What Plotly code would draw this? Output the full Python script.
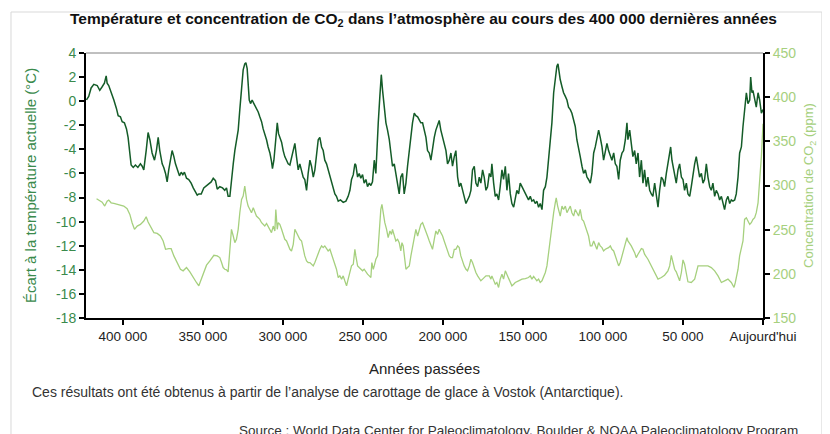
import plotly.graph_objects as go

# Vostok ice core, years before present (thousands) and temperature anomaly (°C)
temp_kyr = [
    422.7, 421.3, 419.8, 418.1, 416.0, 414.4, 412.9, 411.5, 410.4, 409.8, 408.8, 407.3, 405.6, 404.0,
    402.9, 401.5, 400.4, 399.0, 397.7, 396.7, 395.6, 394.8, 393.5, 392.1, 390.6, 389.0, 387.9, 386.9,
    385.4, 384.2, 383.1, 381.7, 380.2, 379.0, 377.9, 376.9, 375.4, 374.4, 373.3, 372.3, 371.3, 370.2,
    369.2, 368.1, 367.1, 365.6, 364.6, 363.5, 362.5, 361.5, 360.2, 358.8, 357.3, 356.0, 354.6, 353.5,
    352.5, 351.0, 349.4, 347.7, 346.3, 344.8, 343.5, 342.1, 341.0,
    339.4, 337.7, 336.3, 335.2, 334.2, 333.1, 332.1, 331.0, 330.0, 329.0, 327.9, 326.9, 325.8, 324.8,
    323.8, 323.1, 322.3, 321.7, 321.0, 320.2, 319.2, 318.1, 316.9, 315.4, 314.4, 313.3, 312.3, 311.3,
    310.2, 309.2, 308.1, 307.1, 306.5, 305.6, 304.6, 303.5, 302.7, 301.9, 300.8, 299.8, 298.8, 297.7,
    296.7, 295.6, 294.6, 293.5, 292.5, 291.5, 290.4, 289.4, 288.3, 287.3, 286.3, 285.2, 284.2, 283.1,
    282.1, 281.0, 280.0, 279.0, 277.9, 276.9, 275.8, 274.8, 273.8, 272.7, 271.7, 270.6, 269.6, 268.5,
    267.5, 266.5, 265.4, 264.0, 262.3, 260.6, 259.2, 258.1, 257.1, 256.0, 255.0,
    254.4, 253.3, 252.3, 251.3, 250.2, 249.2, 248.1, 247.1, 246.0, 245.0, 244.0, 242.9, 241.9, 241.3,
    240.4, 239.4, 238.5, 237.7, 236.7, 235.6, 234.6, 233.5, 232.5, 231.5, 230.4, 229.4, 228.3, 227.3,
    226.3, 225.2, 224.2, 223.1, 222.1, 221.0, 220.0, 219.0, 217.9, 216.9, 215.8, 214.8, 213.8, 212.7,
    211.7, 210.6, 209.6, 208.5, 207.5, 206.5, 205.4, 204.4, 203.3, 202.3, 201.3, 200.2, 199.2, 198.1,
    197.1, 196.0, 195.0, 194.0, 192.9, 191.9, 190.8, 189.8, 188.8, 187.7, 186.7, 185.6, 184.6, 183.5,
    182.5, 181.5, 180.4, 179.4, 178.3, 177.3, 176.3, 175.2, 174.2, 173.1, 172.1, 171.0, 170.0,
    169.4, 168.3, 167.3, 166.3, 165.2, 164.2, 163.1, 162.1, 161.0, 160.0, 159.0, 157.9, 156.9, 155.8,
    154.8, 153.8, 152.7, 151.7, 150.6, 149.6, 148.5, 147.5, 146.5, 145.4, 144.4, 143.3, 142.3, 141.3,
    140.2, 139.2, 138.1, 137.1, 136.0, 135.0, 134.0, 132.9, 131.9, 130.8, 129.8, 128.8, 128.1, 127.3,
    126.7, 125.6, 124.6, 123.5, 122.5, 121.5, 120.4, 119.4, 118.3, 117.3, 116.3, 115.2, 114.2, 113.1,
    112.1, 111.0, 110.0, 109.0, 107.9, 106.9, 105.8, 104.8, 103.8, 102.7, 101.7, 100.6, 99.6, 98.5,
    97.5, 96.5, 95.4, 94.4, 93.3, 92.3, 91.3, 90.2, 89.2, 88.1, 87.1, 86.0, 85.0,
    84.4, 83.3, 82.3, 81.3, 80.2, 79.2, 78.1, 77.1, 76.0, 75.0, 74.0, 72.9, 71.9, 70.8, 69.8, 68.8,
    67.7, 66.7, 65.6, 64.6, 63.5, 62.5, 61.5, 60.4, 59.4, 58.3, 57.7, 56.9, 56.3, 55.2, 54.2, 53.1,
    52.1, 51.0, 50.0, 49.0, 47.9, 46.9, 45.8, 44.8, 43.8, 42.7, 41.7, 40.6, 39.6, 38.5, 37.5, 36.5,
    35.4, 34.4, 33.3, 32.3, 31.3, 30.2, 29.2, 28.1, 27.1, 26.0, 25.0, 24.0, 22.9, 21.9, 20.8, 19.8,
    18.8, 17.7, 16.7, 15.6, 14.6, 13.5, 12.5, 11.5, 10.4, 9.4, 8.3, 7.7, 6.9, 6.3, 5.2, 4.2, 3.1,
    2.1, 1.0, 0.0,
]
temp_values = [
    0.1, 0.4, 1.1, 1.4, 1.3, 0.9, 1.2, 1.5, 2.1, 1.5, 1.3, 0.8, 0.1, -0.6,
    -1.2, -1.3, -1.7, -1.8, -2.3, -3.0, -4.1, -5.3, -5.5, -5.3, -5.5, -5.2, -5.4, -5.7,
    -4.1, -2.6, -3.2, -4.3, -4.9, -4.1, -3.0, -4.1, -5.2, -5.5, -6.0, -6.7, -5.7, -4.9,
    -4.1, -4.6, -5.2, -5.8, -6.2, -5.9, -6.1, -5.9, -6.4, -6.5, -6.8, -7.2, -7.5, -7.8,
    -7.7, -7.7, -7.2, -7.0, -6.8, -6.7, -6.4, -6.6, -7.3,
    -7.1, -7.2, -7.4, -7.2, -7.9, -7.9, -6.3, -5.2, -4.1, -3.1, -2.4, -0.7, 1.5, 2.6,
    3.1, 3.2, 2.7, 1.5, 0.1, -0.2, 0.1, -0.2, -0.5, -0.9, -1.3, -1.7, -2.3, -2.7,
    -3.2, -3.8, -4.3, -5.0, -5.6, -4.9, -3.5, -1.8, -2.7, -3.0, -3.4, -4.1, -4.6, -4.9,
    -5.2, -5.3, -4.7, -4.1, -3.5, -4.6, -5.7, -5.2, -5.9, -6.3, -6.5, -7.4, -6.0, -4.9,
    -5.4, -6.3, -5.7, -4.6, -3.2, -3.0, -3.8, -4.1, -4.9, -5.2, -5.7, -6.1, -6.7, -7.1,
    -7.7, -7.9, -8.3, -8.2, -8.4, -8.3, -7.9, -7.4, -6.5, -6.1, -5.2,
    -5.3, -6.3, -6.0, -6.4, -6.1, -6.8, -6.5, -7.1, -6.8, -7.0, -6.7, -4.9, -6.0, -4.1,
    -1.8, 0.4, 2.2, 0.9, -0.7, -1.8, -2.4, -3.2, -4.3, -5.4, -5.2, -6.0, -6.8, -7.7,
    -6.3, -6.0, -7.7, -6.8, -5.4, -4.1, -2.7, -1.8, -1.0, -1.2, -1.3, -1.6, -1.8, -1.8,
    -2.4, -3.0, -4.1, -4.3, -4.9, -3.8, -3.0, -2.4, -2.0, -1.6, -2.4, -3.0, -3.5, -4.1,
    -5.2, -4.9, -4.3, -5.4, -4.6, -4.1, -6.3, -7.1, -6.8, -7.4, -7.9, -8.5, -8.2, -7.9,
    -7.4, -5.7, -5.4, -6.8, -7.1, -6.3, -6.8, -5.7, -6.3, -7.4, -7.1, -6.0, -6.3,
    -5.2, -6.8, -7.9, -7.7, -8.2, -7.1, -5.7, -6.5, -5.4, -7.4, -6.0, -7.7, -8.5, -8.8,
    -7.9, -7.4, -7.7, -6.8, -7.1, -7.4, -7.7, -7.9, -8.2, -7.9, -8.3, -8.2, -8.5, -8.3,
    -8.8, -8.5, -9.0, -7.4, -7.1, -6.3, -4.9, -3.0, -1.8, 0.7, 2.0, 2.9, 3.1, 2.3,
    1.8, 1.2, 0.7, 0.4, 0.1, -0.5, -0.7, -1.0, -1.6, -2.1, -3.2, -4.1, -4.6, -5.4,
    -6.0, -5.7, -6.3, -6.5, -6.8, -6.0, -4.3, -3.8, -3.0, -2.4, -3.0, -3.8, -4.9, -4.1,
    -3.5, -4.1, -4.6, -4.9, -4.3, -5.2, -5.4, -6.5, -4.9, -4.3, -4.1, -3.2, -1.8,
    -3.2, -2.4, -3.8, -4.6, -4.1, -5.2, -4.3, -6.3, -4.9, -6.8, -5.7, -7.1, -6.3, -7.4, -7.7, -7.9,
    -6.8, -7.7, -8.8, -7.4, -6.3, -6.5, -7.1, -6.0, -5.2, -4.3, -3.8, -4.9, -5.4, -6.0, -6.8, -5.7,
    -5.2, -6.3, -6.5, -7.4, -6.8, -7.7, -7.9, -7.1, -6.0, -5.2, -4.6, -5.4, -6.3, -6.0, -6.8, -6.5,
    -5.2, -6.3, -7.1, -7.4, -6.8, -7.9, -7.4, -7.7, -8.2, -7.9, -8.5, -9.0, -8.2, -7.9, -8.5, -8.2,
    -8.3, -8.2, -7.7, -6.3, -4.3, -3.8, -2.1, -0.7, 0.7, -0.2, 0.1, 2.0, 0.7, 0.9, 0.1, -0.5, 0.7,
    0.1, -1.0, -0.7,
]

# CO2 concentration (ppm)
co2_kyr = [
    416.4, 412.9, 411.3, 409.8, 408.8, 407.3, 405.6, 403.5, 401.5, 399.4, 397.3, 395.6, 394.2, 392.7,
    391.0, 389.0, 386.9, 385.4, 384.2, 382.7, 380.6, 378.5, 376.5, 374.8, 373.3, 371.3, 369.8, 368.1,
    366.0, 364.0, 362.3, 360.2, 358.1, 355.6, 354.0, 352.5, 351.0, 349.4, 347.7, 345.6, 343.1, 341.0,
    339.4, 338.3, 337.3, 336.3, 335.2, 334.2, 333.1, 332.1, 331.0, 330.0, 329.0, 327.9, 326.9, 325.8,
    324.8, 323.8, 322.7, 321.7, 320.6, 319.6, 318.5, 317.5, 316.5, 315.4, 314.4, 313.3, 312.3, 311.3,
    310.2, 309.2, 308.1, 307.1, 306.0, 305.0, 304.4, 303.5, 302.9, 301.9, 300.8, 299.8, 298.8, 297.7,
    296.7, 295.6, 294.6, 293.5, 292.5, 291.5, 290.4, 289.4, 288.3, 287.3, 286.3, 285.2, 284.2, 283.1,
    282.1, 281.0, 280.0, 279.0, 277.9, 276.9, 275.8, 274.8, 273.8, 272.7, 271.7, 270.6, 269.6, 268.5,
    267.5, 266.5, 265.4, 264.4, 263.3, 262.3, 261.3, 260.2, 259.2, 258.1, 257.1, 256.0, 255.0,
    254.4, 253.3, 252.3, 251.3, 250.2, 249.2, 248.1, 247.1, 246.0, 245.0, 244.4, 243.5, 242.9, 241.9,
    240.8, 239.8, 238.8, 238.1, 237.3, 236.3, 235.2, 234.2, 233.1, 232.1, 231.5, 230.4, 229.4, 228.3,
    227.3, 226.3, 225.6, 224.8, 224.0, 223.1, 222.1, 221.0, 220.0, 219.0, 217.9, 216.9, 215.8, 214.8,
    213.8, 212.7, 211.7, 210.6, 209.6, 208.5, 207.5, 206.5, 205.4, 204.4, 203.3, 202.3, 201.3, 200.2,
    199.2, 198.1, 197.1, 196.0, 195.0, 194.0, 192.9, 191.9, 190.8, 189.8, 188.8, 187.7, 186.7, 185.6,
    184.6, 183.5, 182.5, 181.5, 180.4, 179.4, 178.3, 177.3, 176.3, 175.2, 174.2, 173.1, 172.1, 171.0,
    170.0,
    169.4, 167.3, 166.3, 165.2, 164.2, 163.1, 162.1, 161.0, 160.0, 159.0, 157.9, 156.9, 155.8, 154.8,
    152.7, 150.6, 148.5, 146.5, 145.4, 144.4, 143.3, 142.3, 141.3, 140.2, 139.2, 138.1, 137.1, 136.0,
    135.0, 134.0, 132.9, 131.9, 130.8, 129.8, 129.2, 128.3, 127.7, 126.7, 125.6, 124.6, 123.5, 122.5,
    121.5, 120.4, 119.4, 118.3, 117.3, 116.3, 115.2, 114.2, 113.1, 112.1, 111.0, 110.0, 109.0, 107.9,
    106.9, 105.8, 104.8, 103.8, 102.7, 101.7, 100.6, 99.6, 98.5, 97.5, 96.5, 95.4, 94.4, 93.3,
    92.3, 91.3, 90.2, 89.2, 88.1, 87.1, 86.0, 85.0,
    84.4, 82.3, 80.2, 79.2, 78.1, 76.0, 75.0, 74.0, 71.9, 69.8, 67.7, 65.6, 63.5, 61.5, 59.4, 58.3,
    57.3, 56.3, 55.2, 54.2, 53.1, 52.1, 51.0, 50.0, 49.0, 47.9, 46.9, 44.8, 42.7, 40.6, 38.5, 36.5,
    34.4, 32.3, 30.2, 28.1, 26.0, 24.0, 21.9, 19.8, 18.1, 17.3, 15.6, 14.6, 13.5, 12.5, 11.5, 10.4,
    9.4, 8.3, 7.3, 6.3, 5.2, 4.2, 3.1, 2.1, 1.0, 0.0,
]
co2_values = [
    285.0, 281.2, 276.7, 282.3, 283.4, 280.4, 279.7, 278.6, 277.8, 276.7, 273.7, 267.3, 257.9, 250.4,
    254.1, 256.0, 259.8, 264.6, 258.6, 253.4, 246.6, 245.8, 242.8, 237.2, 227.8, 228.5, 228.5, 220.3,
    212.8, 205.2, 203.4, 207.1, 202.2, 194.0, 190.2, 186.4, 194.0, 203.4, 209.8, 214.6, 221.0, 220.3,
    218.4, 212.8, 207.1, 205.2, 204.5, 202.2, 227.8, 250.4, 242.8, 235.3, 239.1, 250.4, 269.2, 284.2,
    288.0, 299.2, 284.2, 276.7, 272.9, 269.2, 274.8, 269.2, 265.4, 263.5, 261.6, 257.9, 256.0, 254.1,
    257.1, 254.1, 250.4, 246.6, 254.1, 248.5, 272.9, 250.4, 257.9, 256.0, 250.4, 244.7, 239.1, 237.2,
    231.6, 227.8, 225.9, 233.4, 250.4, 246.6, 241.0, 239.1, 237.2, 227.8, 220.3, 214.6, 212.8, 212.8,
    210.9, 209.0, 212.8, 218.4, 224.0, 227.8, 231.6, 229.7, 231.6, 227.8, 225.9, 227.8, 222.2, 218.4,
    210.9, 205.2, 195.8, 197.7, 194.0, 197.7, 192.1, 186.4, 194.0, 201.5, 209.0, 210.9, 227.8,
    220.3, 209.0, 207.1, 205.2, 203.4, 205.2, 201.5, 199.6, 197.7, 195.8, 212.8, 205.2, 209.0, 216.5,
    220.3, 250.4, 272.9, 278.6, 269.2, 257.9, 250.4, 241.0, 248.5, 244.7, 250.4, 242.8, 237.2, 239.1,
    235.3, 225.9, 235.3, 231.6, 220.3, 205.2, 207.1, 209.0, 220.3, 231.6, 242.8, 250.4, 242.8, 250.4,
    256.0, 257.9, 252.2, 248.5, 242.8, 237.2, 231.6, 227.8, 239.1, 248.5, 244.7, 250.4, 246.6, 242.8,
    237.2, 231.6, 225.9, 220.3, 218.4, 218.4, 227.8, 227.8, 231.6, 229.7, 220.3, 212.8, 209.0, 205.2,
    203.4, 209.0, 216.5, 212.8, 205.2, 201.5, 197.7, 194.0, 192.1, 194.0, 195.8, 197.7, 197.7, 197.7,
    194.0,
    197.7, 188.3, 190.2, 184.6, 194.0, 199.6, 194.0, 203.4, 199.6, 194.0, 190.2, 186.4, 188.3, 190.2,
    192.1, 194.0, 194.7, 195.8, 197.7, 194.0, 197.0, 194.0, 192.1, 194.0, 190.2, 192.1, 195.8, 201.5,
    209.0, 224.0, 239.1, 257.9, 269.2, 280.4, 286.1, 276.7, 272.9, 265.4, 276.7, 272.9, 276.7, 269.2,
    272.9, 276.7, 269.2, 265.4, 272.9, 269.2, 265.4, 272.9, 261.6, 259.8, 254.1, 246.6, 242.8, 231.6,
    231.6, 237.2, 231.6, 227.8, 235.3, 231.6, 229.7, 225.9, 227.8, 228.6, 229.7, 231.6, 227.8, 225.9,
    220.3, 212.8, 209.0, 212.8, 220.3, 227.8, 235.3, 241.0,
    237.2, 231.6, 224.0, 218.4, 222.2, 228.6, 227.8, 222.2, 216.5, 209.0, 201.5, 194.0, 195.8, 198.5, 203.4, 209.0,
    221.0, 212.8, 205.2, 202.2, 197.7, 192.1, 201.5, 215.8, 210.9, 197.7, 191.0, 190.2, 194.0, 209.0, 209.0, 209.8,
    209.0, 207.1, 203.4, 197.7, 190.2, 192.1, 194.0, 190.2, 184.6, 190.2, 205.2, 220.3, 231.6, 237.2, 261.6, 263.5,
    259.8, 255.9, 257.9, 261.6, 263.5, 269.2, 280.4, 302.9, 333.0, 370.0,
]

x_tick_vals = [400, 350, 300, 250, 200, 150, 100, 50, 0]
x_tick_text = ["400 000", "350 000", "300 000", "250 000", "200 000", "150 000", "100 000", "50 000", "Aujourd'hui"]
temp_tick_vals = [4, 2, 0, -2, -4, -6, -8, -10, -12, -14, -16, -18]
temp_tick_text = ["4", "2", "0", "-2", "-4", "-6", "-8", "-10", "-12", "-14", "-16", "-18"]
co2_tick_vals = [150, 200, 250, 300, 350, 400, 450]

FONT = "Liberation Sans, Arial, sans-serif"
DARK = "#145c28"
LIGHT = "#a6d07e"
LEFT_TXT = "#3a8a4c"

fig = go.Figure()

fig.add_trace(go.Scatter(
    x=co2_kyr, y=co2_values, mode="lines", yaxis="y2",
    line=dict(color=LIGHT, width=1.3), name="CO2",
))
fig.add_trace(go.Scatter(
    x=temp_kyr, y=temp_values, mode="lines",
    line=dict(color=DARK, width=1.5), name="Température",
))

# the page adds an 8px body margin, so the figure is a bit smaller than the window
fig.update_layout(
    width=822, height=426,
    margin=dict(l=78, r=67, t=45, b=116),
    paper_bgcolor="white", plot_bgcolor="white",
    showlegend=False,
    font=dict(family=FONT, size=13, color="#222"),
    xaxis=dict(
        range=[423, 0], tickvals=x_tick_vals, ticktext=x_tick_text,
        showline=True, linecolor="black", linewidth=2,
        ticks="outside", ticklen=5, tickwidth=2, tickcolor="black",
        showgrid=False, zeroline=False,
        tickfont=dict(size=13.5, color="#222"),
    ),
    yaxis=dict(
        range=[-18, 4], tickvals=temp_tick_vals, ticktext=temp_tick_text,
        showline=True, linecolor="black", linewidth=2,
        ticks="outside", ticklen=5, tickwidth=2, tickcolor="black",
        showgrid=False, zeroline=False,
        tickfont=dict(size=14, color=LEFT_TXT),
        title=dict(text="Écart à la température actuelle (°C)",
                   font=dict(size=15, color=LEFT_TXT), standoff=16),
    ),
    yaxis2=dict(
        range=[150, 450], tickvals=co2_tick_vals, overlaying="y", side="right",
        showline=True, linecolor="black", linewidth=2,
        ticks="outside", ticklen=5, tickwidth=2, tickcolor="black",
        showgrid=False, zeroline=False,
        tickfont=dict(size=14, color=LIGHT),
        title=dict(text="Concentration de CO<sub>2</sub> (ppm)",
                   font=dict(size=13, color=LIGHT), standoff=9),
    ),
)

# top border of the plot frame and the outer frame
fig.add_shape(type="line", xref="paper", yref="paper", x0=0, x1=1, y0=1, y1=1,
              line=dict(color="#808080", width=1))
fig.add_shape(type="rect", xref="paper", yref="paper",
              x0=-0.1108, x1=1.087, y0=-0.47, y1=1.1547,
              line=dict(color="#d9d9d9", width=1))

fig.add_annotation(
    text="<b>Température et concentration de CO<sub>2</sub> dans l’atmosphère au cours des 400 000 dernières années</b>",
    xref="paper", yref="paper", x=0.498, y=1.125, xanchor="center", yanchor="middle",
    showarrow=False, font=dict(size=15.5, color="#111"),
)
fig.add_annotation(
    text="Années passées", xref="paper", yref="paper", x=0.5, y=-0.189,
    xanchor="center", yanchor="middle", showarrow=False, font=dict(size=15, color="#222"),
)
fig.add_annotation(
    text="Ces résultats ont été obtenus à partir de l’analyse de carottage de glace à Vostok (Antarctique).",
    xref="paper", yref="paper", x=-0.0827, y=-0.279, xanchor="left", yanchor="middle",
    showarrow=False, font=dict(size=14, color="#333"),
)
fig.add_annotation(
    text="Source : World Data Center for Paleoclimatology, Boulder & NOAA Paleoclimatology Program",
    xref="paper", yref="paper", x=1.0546, y=-0.423, xanchor="right", yanchor="middle",
    showarrow=False, font=dict(size=13.5, color="#333"),
)

fig.write_html("out.html")
